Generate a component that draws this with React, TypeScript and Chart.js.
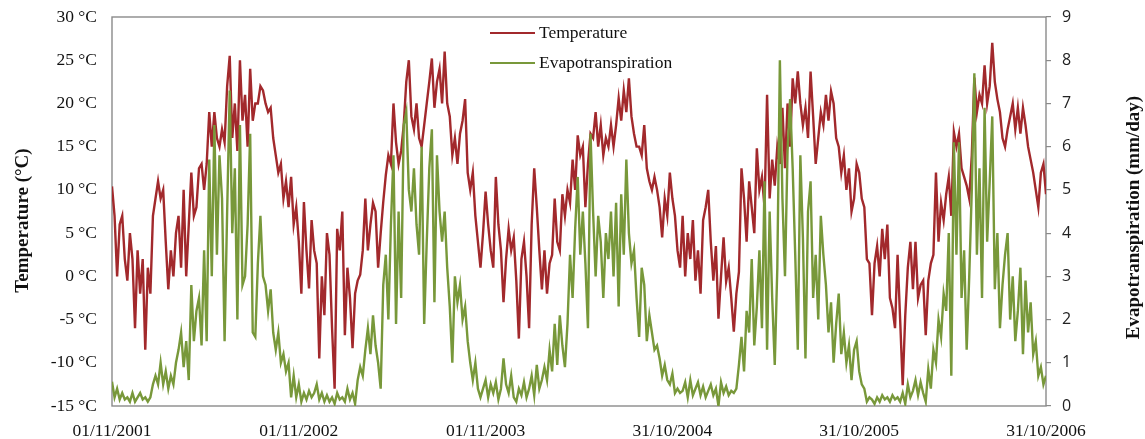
import React, { useEffect, useRef } from "react";
import { Chart, registerables } from "chart.js";

Chart.register(...registerables);

// sampling interval of the series below, in days (01/11/2001 .. 31/10/2006)
const STEP_DAYS = 5;
const DAYS_PER_TICK = 365;

const xTickLabels = ["01/11/2001", "01/11/2002", "01/11/2003", "31/10/2004", "31/10/2005", "31/10/2006"];
const seriesNames = ["Temperature", "Evapotranspiration"];
const leftAxisTitle = "Temperature (°C)";
const rightAxisTitle = "Evapotranspiration (mm/day)";

// Temperature (°C), one value every 5 days
const temperature = [
  10.4, 7, 0, 6, 7, 2, -0.5, 5, 2, -6,
  3, -2, 2, -8.5, 1, -2, 7, 9, 11, 9,
  10, 4, -1.5, 3, 0, 5, 7, 1, 10, 0,
  6, 12, 7, 8, 12.5, 13, 10, 13, 19, 15,
  19, 16, 15, 17, 15.5, 22, 25.5, 16, 20, 14.5,
  25, 18, 21, 15, 24, 18, 20, 20, 22, 21.5,
  20, 19, 19.5, 16, 14, 12, 13, 9, 11, 8,
  11.5, 6, 8, 4, -2, 8.6, 3, -1.4, 6.5, 3,
  1.5, -9.5, 0, -4.5, 5, 2.5, -6, -13, 5.5, 3,
  7.5, -6.8, 1, -2.5, -8.3, -2, -0.5, 0.2, 3, 9,
  3, 6, 8.5, 7.5, 1, 5, 8.6, 11.7, 14, 13,
  20, 15.5, 13, 14.5, 17.5, 22.5, 25, 18.5, 17, 20,
  16, 15, 17.5, 20, 22.5, 25.2, 19.5, 22.5, 24, 20,
  26, 20, 18.5, 14, 16, 13, 16.5, 18, 20.5, 12,
  10, 12, 7, 4, 1, 5, 9.8, 6, 3, 1,
  11.5, 6, 3, -3, 2, 5.5, 3, 4.5, -0.5, -7.2,
  2, 4, 0, -6, 6, 12.5, 8, 3, -1.5, 3,
  -2, 1.5, 2.5, 9, 4, 3, 9.5, 7, 10, 8.5,
  13.5, 10, 16.3, 14, 15, 8, 13, 16.5, 16, 19,
  15, 17.5, 14, 16, 15, 17.5, 15, 17.5, 20.6, 18,
  21.5, 19, 22.9, 18.5, 16.5, 15, 15, 14, 17.5, 12.5,
  11, 10, 11.5, 10, 8, 4.5, 9, 7, 12, 9,
  7, 3, 1, 7, 0, 5, 2, 6.5, -0.5, 3,
  -2, 6.5, 8, 10, 4, -0.5, 3.5, -4.9, 0, 4.5,
  -0.6, 1, -2.5, -6.4, -2, 0.5, 12.5, 9, 4, 11,
  8, 5, 14.8, 10, 11.5, 8, 21, 9, 13.5, 10.5,
  15, 13, 19.5, 12.5, 20, 15, 22.9, 20, 23.7, 20,
  17.5, 19.5, 16, 23.7, 18.5, 13, 16, 19, 17.5, 21,
  18, 21.4, 20, 16, 15, 12, 14, 10, 12.5, 7.5,
  9, 13, 12, 9, 8, 2, 1.5, -4.5, 1.5, 3.5,
  0, 5.5, 2, 6, -2.5, -3.7, -6, 2.5, -5, -12.6,
  -4.5, 1, 4, -1.5, 4, -2.5, -1, -0.5, -6.8, -0.5,
  1.5, 2.5, 12, 4, 8.5, 6.5, 9.5, 11.5, 7, 16.7,
  15, 16.5, 12.5, 11.5, 10.5, 9, 14, 23, 19, 21,
  20, 24.4, 20, 22, 27, 22.5, 20.5, 19, 16, 15,
  17, 18.5, 20, 17, 19.5, 16.5, 19.5, 17.5, 15, 13.5,
  12, 10, 8, 12, 13, 9.5,
];

// Evapotranspiration (mm/day), one value every 5 days
const evapotranspiration = [
  0.56, 0.2, 0.4, 0.15, 0.3, 0.15, 0.2, 0.1, 0.3, 0.1,
  0.2, 0.3, 0.15, 0.2, 0.1, 0.2, 0.5, 0.7, 0.5, 1.0,
  0.5, 0.8, 0.4, 0.7, 0.5, 1.0, 1.3, 1.7, 0.9, 1.5,
  0.6, 2.8, 1.5, 2.2, 2.5, 1.4, 3.6, 1.5, 5.7, 3.0,
  6.5, 3.5, 5.8, 4.8, 1.5, 4.5, 7.3, 4.0, 5.5, 2.0,
  6.5, 2.8, 3.0, 4.2, 6.3, 1.7, 1.6, 3.3, 4.4, 3.0,
  2.8, 2.2, 2.7, 1.7, 1.3, 1.7, 1.0, 1.2, 0.8, 1.0,
  0.2, 0.7, 0.2, 0.5, 0.1, 0.3, 0.15, 0.35, 0.2, 0.3,
  0.5, 0.15, 0.3, 0.1, 0.25, 0.1, 0.2, 0.05, 0.3, 0.15,
  0.2, 0.1, 0.4, 0.15, 0.3, 0.05, 0.6, 0.9, 0.7, 1.3,
  1.8, 1.2, 2.1, 1.4, 1.0, 0.4, 2.8, 3.5, 2.0, 4.2,
  5.8, 1.9, 4.5, 2.5, 6.5, 6.8, 5.0, 4.5, 5.5, 4.2,
  3.5, 6.0, 1.9, 3.8, 5.5, 6.4, 2.4, 5.8, 4.5, 3.8,
  4.5, 3.2, 2.3, 1.0, 3.0, 2.4, 2.8, 2.0, 2.3, 1.5,
  1.0, 0.6, 1.0, 0.4, 0.2, 0.4, 0.6, 0.2, 0.5, 0.3,
  0.55, 0.15, 0.4, 1.1, 0.5, 0.3, 0.7, 0.2, 0.1, 0.4,
  0.25, 0.55, 0.2, 0.4, 0.7, 0.25, 0.95, 0.4, 0.6, 0.9,
  0.6, 1.3, 0.8, 1.9, 0.95, 2.1, 1.4, 0.9, 1.9, 3.5,
  2.5, 4.1, 5.3, 3.5, 4.5, 3.3, 1.8, 6.3, 4.5, 3.0,
  4.4, 3.8, 2.5, 4.0, 3.4, 4.5, 3.0, 4.7, 2.3, 4.9,
  3.5, 5.7, 4.0, 3.3, 3.6, 2.5, 1.6, 3.2, 2.8, 1.5,
  2.1, 1.7, 1.3, 1.4, 1.1, 0.7, 0.95, 0.6, 0.5, 0.75,
  0.3, 0.4, 0.3, 0.35, 0.55, 0.2, 0.6, 0.25, 0.4, 0.55,
  0.25, 0.45, 0.2, 0.35, 0.5, 0.25, 0.4, 0.0, 0.55, 0.3,
  0.45, 0.25, 0.35, 0.3, 0.4, 0.95, 1.6, 0.8, 2.2, 1.7,
  3.4, 1.4, 2.3, 3.6, 1.8, 5.2, 1.3, 4.5, 2.5, 0.95,
  3.2, 8.0, 4.8, 3.0, 5.9, 7.1, 5.5, 3.5, 1.3, 5.8,
  3.9, 1.1, 4.5, 5.2, 2.5, 3.5, 2.0, 4.4, 3.5, 2.8,
  1.7, 2.4, 1.0, 1.9, 2.6, 1.2, 1.7, 1.0, 1.4, 0.6,
  1.3, 1.5, 0.8, 0.5, 0.4, 0.1, 0.2, 0.15, 0.05, 0.2,
  0.1, 0.25, 0.15, 0.2, 0.1, 0.25, 0.15, 0.2, 0.1, 0.3,
  0.05, 0.5, 0.2, 0.35, 0.6, 0.25, 0.55, 0.3, 0.1, 0.85,
  0.4, 1.3, 1.0, 2.0, 1.6, 2.6, 2.2, 4.0, 0.7, 6.1,
  3.5, 6.1, 2.5, 3.6, 1.3, 3.0, 5.0, 7.7, 3.5, 5.5,
  2.5, 6.9, 3.8, 5.2, 6.7, 2.7, 4.0, 1.8, 2.8, 3.5,
  4.0, 2.0, 3.0, 1.5, 2.2, 3.2, 1.2, 2.9, 1.7, 2.4,
  1.2, 1.5, 0.7, 0.9, 0.5, 0.7,
];

const RED = "#A2292C";
const GREEN = "#78983A";
const FRAME = "#8a8a8a";
const SERIF = '"Liberation Serif", "Times New Roman", serif';

const framePlugin = {
  id: "frameAndTexts",
  beforeDatasetsDraw(chart: any) {
    const { ctx, chartArea: a } = chart;
    ctx.save();
    ctx.strokeStyle = FRAME;
    ctx.lineWidth = 1.4;
    ctx.strokeRect(a.left, a.top, a.right - a.left, a.bottom - a.top);
    ctx.restore();
  },
  afterDraw(chart: any) {
    const { ctx, chartArea: a } = chart;
    ctx.save();
    ctx.fillStyle = "#111";
    ctx.font = `bold 19px ${SERIF}`;
    ctx.textAlign = "center";
    ctx.textBaseline = "middle";
    ctx.save();
    ctx.translate(a.left - 89, (a.top + a.bottom) / 2 + 9);
    ctx.rotate(-Math.PI / 2);
    ctx.fillText(leftAxisTitle, 0, 0);
    ctx.restore();
    ctx.save();
    ctx.translate(a.right + 88, (a.top + a.bottom) / 2 + 6);
    ctx.rotate(-Math.PI / 2);
    ctx.fillText(rightAxisTitle, 0, 0);
    ctx.restore();

    // legend
    ctx.font = `17.5px ${SERIF}`;
    ctx.textAlign = "left";
    chart.data.datasets.forEach((ds: any, i: number) => {
      const y = a.top + 16 + i * 30;
      ctx.strokeStyle = ds.borderColor;
      ctx.lineWidth = 2.2;
      ctx.beginPath();
      ctx.moveTo(490, y);
      ctx.lineTo(535, y);
      ctx.stroke();
      ctx.fillStyle = "#111";
      ctx.fillText(ds.label, 539, y);
    });
    ctx.restore();
  },
};

const noPad = (s: any) => {
  s.paddingTop = 0;
  s.paddingBottom = 0;
  s.paddingLeft = 0;
  s.paddingRight = 0;
};

export default function App() {
  const ref = useRef<HTMLCanvasElement>(null);

  useEffect(() => {
    document.body.style.margin = "0";
    const canvas = ref.current;
    if (!canvas) return;
    const tData = temperature.map((v, i) => ({ x: i * STEP_DAYS, y: v }));
    const eData = evapotranspiration.map((v, i) => ({ x: i * STEP_DAYS, y: v }));
    const maxDay = (temperature.length - 1) * STEP_DAYS;

    const chart = new Chart(canvas, {
      type: "line",
      data: {
        datasets: [
          {
            label: seriesNames[0],
            data: tData,
            yAxisID: "y",
            borderColor: RED,
            backgroundColor: RED,
            borderWidth: 2.4,
            pointRadius: 0,
            tension: 0,
            order: 2,
          },
          {
            label: seriesNames[1],
            data: eData,
            yAxisID: "y1",
            borderColor: GREEN,
            backgroundColor: GREEN,
            borderWidth: 2.4,
            pointRadius: 0,
            tension: 0,
            order: 1,
          },
        ],
      },
      options: {
        responsive: false,
        animation: false,
        devicePixelRatio: 1,
        layout: { padding: { top: 17, left: 0, right: 0, bottom: 0 } },
        plugins: {
          legend: { display: false },
          tooltip: { enabled: false },
        },
        scales: {
          x: {
            type: "linear",
            min: 0,
            max: maxDay,
            grid: { display: false, drawTicks: false },
            border: { display: false },
            ticks: {
              stepSize: DAYS_PER_TICK,
              autoSkip: false,
              maxRotation: 0,
              padding: 15,
              color: "#111",
              font: { family: SERIF, size: 17.5 },
              callback: (v: any) => {
                const i = Math.round(Number(v) / DAYS_PER_TICK);
                return xTickLabels[i] ?? "";
              },
            },
            afterFit: (s: any) => {
              s.height = 33;
              noPad(s);
            },
          },
          y: {
            type: "linear",
            position: "left",
            min: -15,
            max: 30,
            grid: { display: false, drawTicks: false },
            border: { display: false },
            ticks: {
              stepSize: 5,
              padding: 15,
              color: "#111",
              font: { family: SERIF, size: 17.5 },
              callback: (v: any) => `${v} °C`,
            },
            afterFit: (s: any) => {
              s.width = 112;
              noPad(s);
            },
          },
          y1: {
            type: "linear",
            position: "right",
            min: 0,
            max: 9,
            grid: {
              display: true,
              drawOnChartArea: false,
              drawTicks: true,
              tickLength: 5,
              color: FRAME,
              lineWidth: 1.2,
            },
            border: { display: false },
            ticks: {
              stepSize: 1,
              padding: 11,
              color: "#222",
              font: { family: '"Open Sans", "Noto Sans", sans-serif', size: 16 },
            },
            afterFit: (s: any) => {
              s.width = 99;
              noPad(s);
            },
          },
        },
      },
      plugins: [framePlugin],
    });
    return () => chart.destroy();
  }, []);

  return <canvas ref={ref} width={1145} height={439} style={{ display: "block" }} />;
}
